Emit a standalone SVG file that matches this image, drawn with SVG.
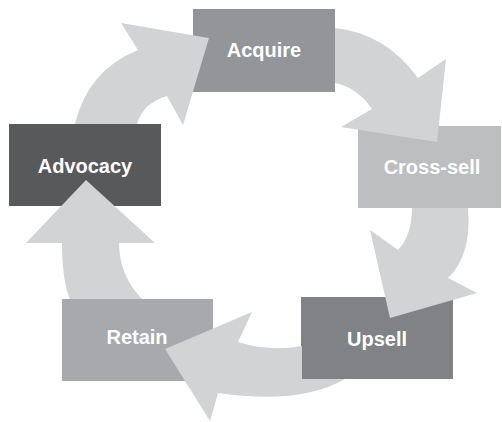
<svg xmlns="http://www.w3.org/2000/svg" width="502" height="422" viewBox="0 0 502 422">
<style>
.lbl{font-family:"Liberation Sans",Arial,sans-serif;font-weight:bold;font-size:20px;fill:#ffffff;text-anchor:middle}
.arr{fill:#d1d3d4;stroke:none}
</style>
<rect width="502" height="422" fill="#ffffff"/>
<g id="acquire"><rect x="193" y="9" width="142" height="83" fill="#939598"/><text class="lbl" x="264" y="57">Acquire</text></g>
<g id="crosssell"><rect x="358" y="126" width="143" height="82" fill="#bcbec0"/><text class="lbl" x="432" y="174">Cross-sell</text></g>
<g id="upsell"><rect x="301" y="297" width="152" height="82" fill="#808285"/><text class="lbl" x="377" y="346">Upsell</text></g>
<g id="retain"><rect x="62" y="299" width="151" height="82" fill="#a7a9ac"/><text class="lbl" x="137" y="344">Retain</text></g>
<g id="advocacy"><rect x="9" y="124" width="152" height="82" fill="#58595b"/><text class="lbl" x="85" y="173">Advocacy</text></g>
<g id="connectors">
<path class="arr" d="M75,124 Q88,70 138,50 L121,23 L209,38 L183,125 L167,96 Q143,103 137,124 Z"/>
<path class="arr" d="M335,28 Q385,33 418,78 L446,59 L437,142 L341,127 L372,109 Q358,88 335,83 Z"/>
<path class="arr" d="M468,208 Q472,255 448,278 L477,293 L390,318 L370,230 L398,250 Q412,235 412,208 Z"/>
<path class="arr" d="M302,346 Q270,352 238,342 L252,312 L165,349 L210,421 L218,393 Q300,405 345,379 L302,379 Z"/>
<path class="arr" d="M70,299 Q62,280 62,243 L26,243 L86,180 L155,243 L119,243 Q119,275 142,299 Z"/>
</g>
</svg>
